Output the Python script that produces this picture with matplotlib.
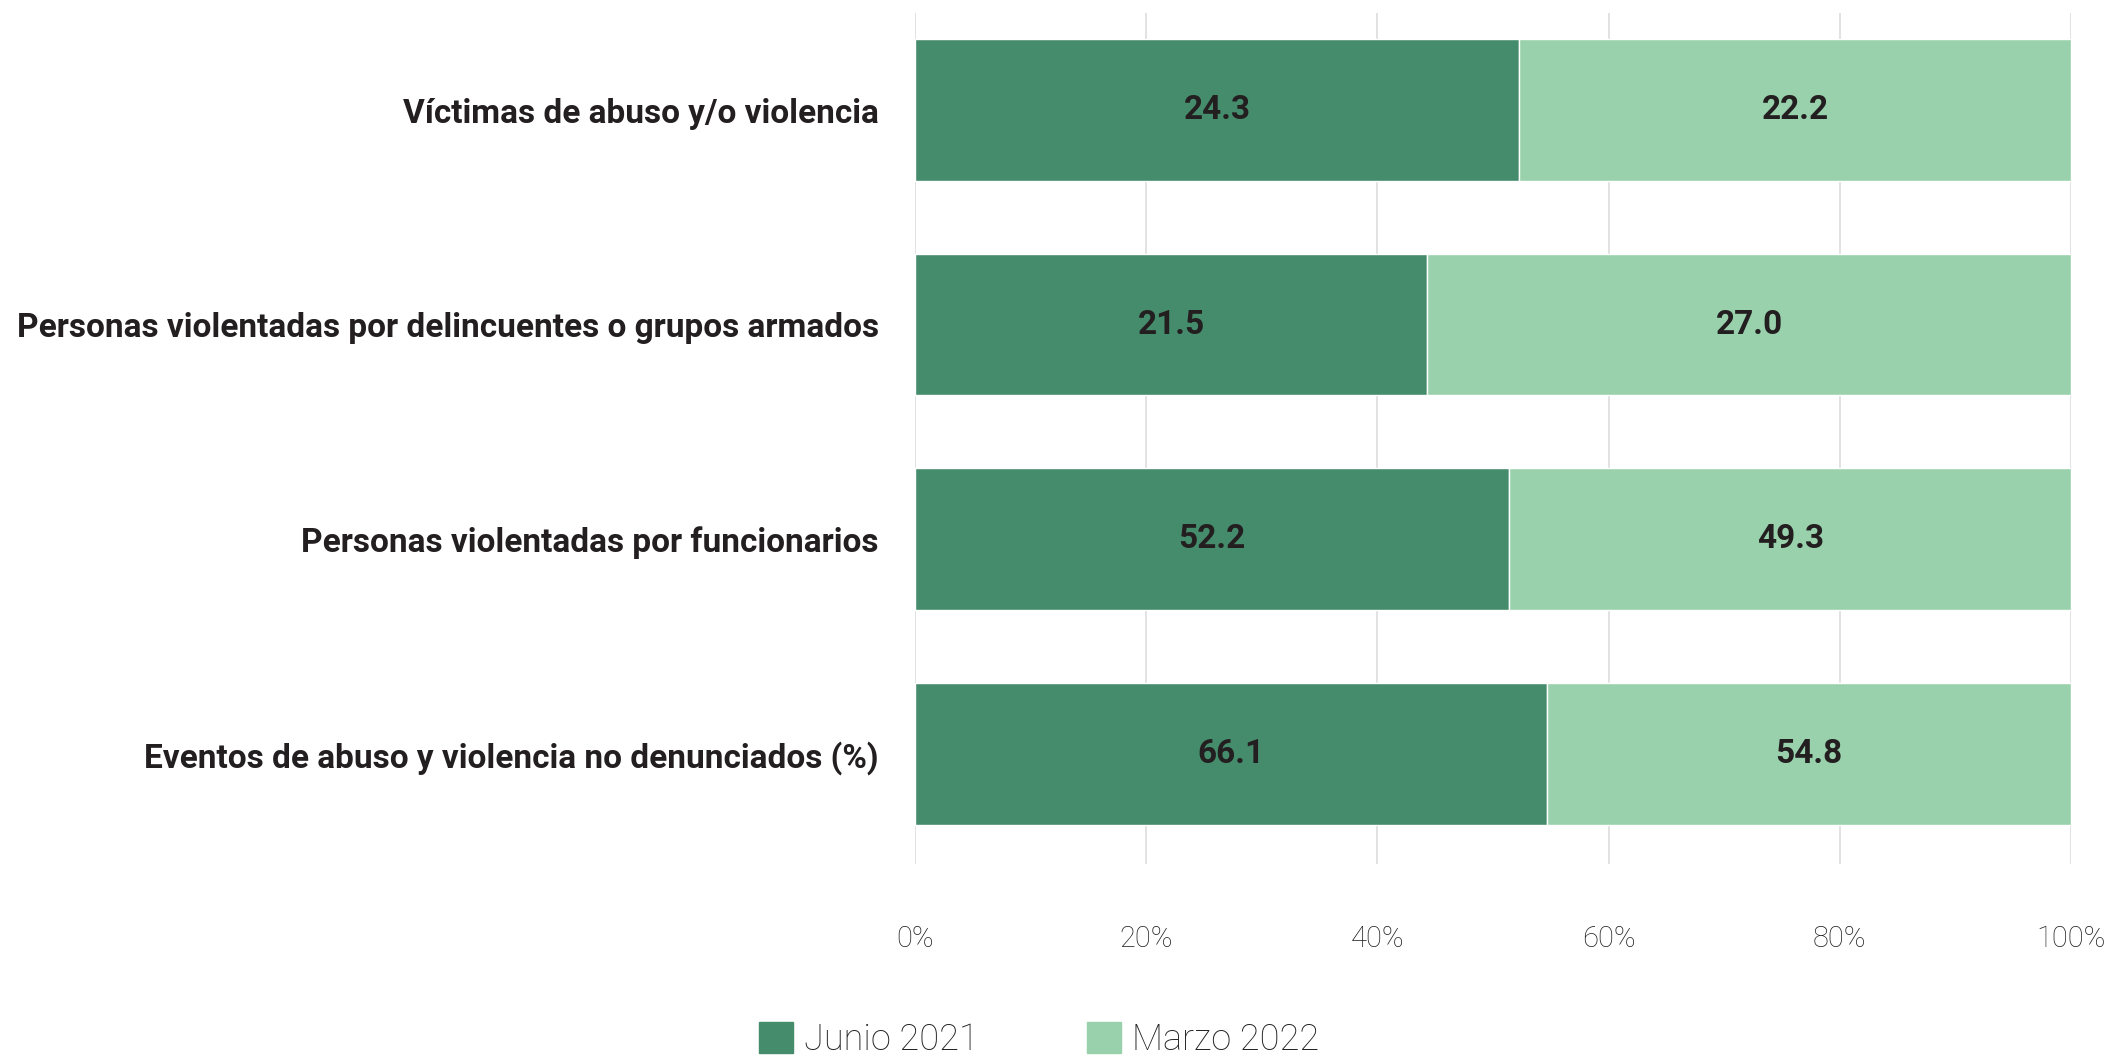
import matplotlib.pyplot as plt
from matplotlib.patches import Patch
from matplotlib.ticker import FuncFormatter

plt.rcParams["font.family"] = ["Roboto", "DejaVu Sans"]

categorias = [
    "Víctimas de abuso y/o violencia",
    "Personas violentadas por delincuentes o grupos armados",
    "Personas violentadas por funcionarios",
    "Eventos de abuso y violencia no denunciados (%)",
]
junio_2021 = [24.3, 21.5, 52.2, 66.1]
marzo_2022 = [22.2, 27.0, 49.3, 54.8]
series = ["Junio 2021", "Marzo 2022"]
ticks = [0, 20, 40, 60, 80, 100]

color_junio = "#458c6c"
color_marzo = "#98d1ab"
texto = "#231f20"

# normalizar cada fila al 100%
totales = [a + b for a, b in zip(junio_2021, marzo_2022)]
pct_junio = [a / t * 100 for a, t in zip(junio_2021, totales)]
pct_marzo = [b / t * 100 for b, t in zip(marzo_2022, totales)]

fig = plt.figure(figsize=(21.16, 10.57), dpi=100)
ax = fig.add_axes([0.4324, 0.1826, 0.5463, 0.8051])

y = list(range(len(categorias)))
ax.barh(y, pct_junio, height=0.66, color=color_junio, edgecolor="white", linewidth=1, zorder=2)
ax.barh(y, pct_marzo, left=pct_junio, height=0.66, color=color_marzo, edgecolor="white", linewidth=1, zorder=2)

for i in y:
    ax.text(pct_junio[i] / 2, i, f"{junio_2021[i]:.1f}", ha="center", va="center",
            fontsize=24, fontweight="bold", color=texto, zorder=3)
    ax.text(pct_junio[i] + pct_marzo[i] / 2, i, f"{marzo_2022[i]:.1f}", ha="center", va="center",
            fontsize=24, fontweight="bold", color=texto, zorder=3)

ax.set_xlim(0, 100)
ax.set_ylim(3.513, -0.452)
ax.set_xticks(ticks)
ax.xaxis.set_major_formatter(FuncFormatter(lambda v, p: f"{v:.0f}%"))
ax.set_yticks(y)
ax.set_yticklabels(categorias, fontsize=24, fontweight="bold", color=texto)
ax.tick_params(axis="y", length=0, pad=26)
ax.tick_params(axis="x", length=0, pad=44, labelsize=21, labelcolor="#222222")
for lbl in ax.get_xticklabels():
    lbl.set_fontweight("light")

ax.grid(axis="x", color="#dddddd", linewidth=1.2, zorder=0)
ax.set_axisbelow(True)
for s in ax.spines.values():
    s.set_visible(False)

handles = [Patch(color=color_junio), Patch(color=color_marzo)]
leg = fig.legend(handles, series, loc="center", bbox_to_anchor=(0.491, 0.016), ncol=2,
                 frameon=False, fontsize=26, handlelength=0.95, handleheight=0.95,
                 handletextpad=0.3, columnspacing=3.0)
for t in leg.get_texts():
    t.set_fontweight("light")
    t.set_color("#222222")

fig.savefig("out.png", dpi=100)
